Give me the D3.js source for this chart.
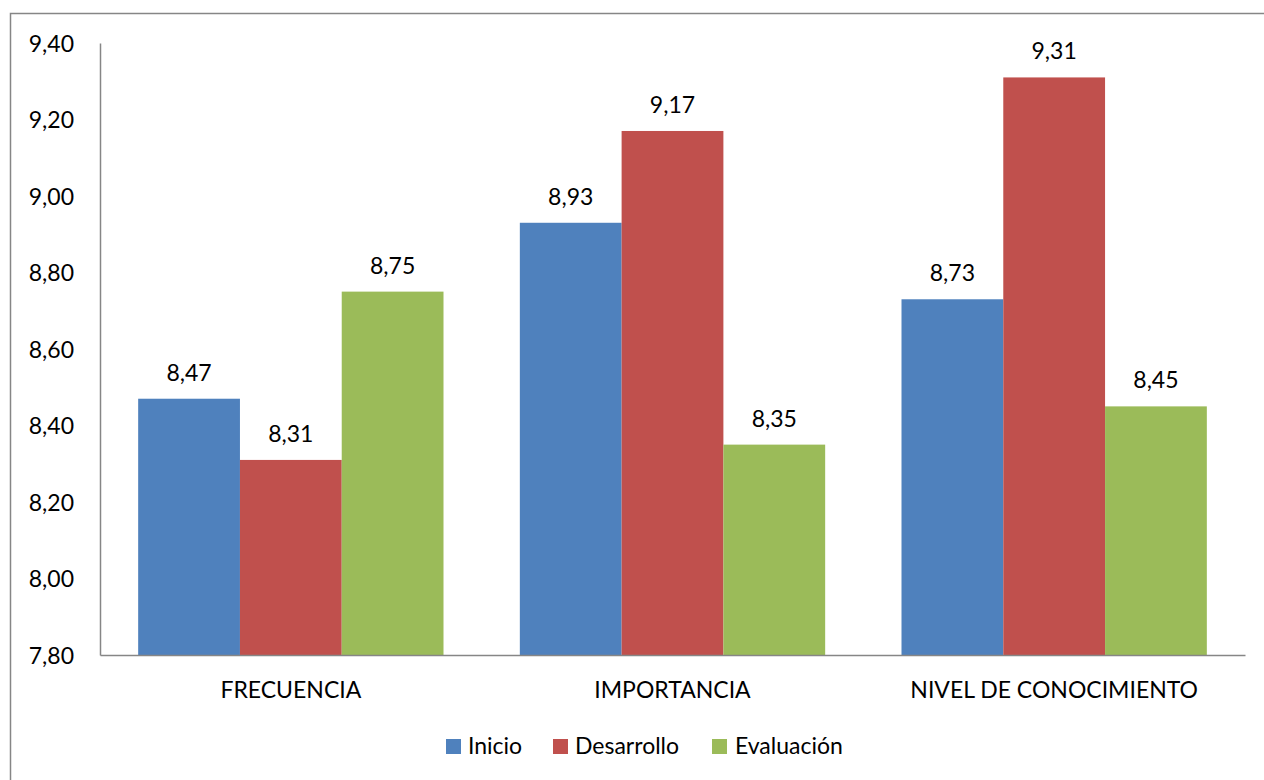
<!DOCTYPE html>
<html>
<head>
<meta charset="utf-8">
<script src="https://cdn.jsdelivr.net/npm/d3@7"></script>
<style>
  html, body { margin: 0; padding: 0; background: #fff; }
  svg { display: block; }
  text { font-family: Lato, "Open Sans", sans-serif; fill: #000; }
</style>
</head>
<body>
<svg id="chart" width="1264" height="780"></svg>
<script>
// Categories, series and axis ticks
const categories = ["FRECUENCIA", "IMPORTANCIA", "NIVEL DE CONOCIMIENTO"];
const seriesNames = ["Inicio", "Desarrollo", "Evaluación"];
const inicio = [8.47, 8.93, 8.73];
const desarrollo = [8.31, 9.17, 9.31];
const evaluacion = [8.75, 8.35, 8.45];
const yTicks = [7.8, 8.0, 8.2, 8.4, 8.6, 8.8, 9.0, 9.2, 9.4];
const colors = ["#4F81BD", "#C0504D", "#9BBB59"];

const seriesValues = [inicio, desarrollo, evaluacion];
const rows = categories.map((c, i) => ({
  cat: c,
  vals: seriesNames.map((s, j) => ({ series: s, idx: j, value: seriesValues[j][i] }))
}));

const es = d3.formatLocale({ decimal: ",", thousands: ".", grouping: [3], currency: ["", " €"] });
const fmt = es.format(".2f");

const FS = 23;
const svg = d3.select("#chart");

// outer chart frame
svg.append("rect")
  .attr("x", 10.5).attr("y", 13.5)
  .attr("width", 1300).attr("height", 800)
  .attr("fill", "none").attr("stroke", "#868686").attr("stroke-width", 1.5);

const plot = { left: 100, right: 1245, top: 43, bottom: 655 };

const x0 = d3.scaleBand()
  .domain(categories)
  .range([plot.left, plot.right])
  .paddingInner(0).paddingOuter(0);

// bars fill 3/3.75 of each category (gap width 75%)
const groupW = x0.bandwidth() * 3 / 3.75;
const x1 = d3.scaleBand()
  .domain(seriesNames)
  .range([0, groupW]);

const y = d3.scaleLinear()
  .domain([yTicks[0], yTicks[yTicks.length - 1]])
  .range([plot.bottom, plot.top]);

// bars
const groups = svg.append("g").selectAll("g")
  .data(rows).join("g")
  .attr("transform", d => `translate(${x0(d.cat) + (x0.bandwidth() - groupW) / 2},0)`);

groups.selectAll("rect")
  .data(d => d.vals).join("rect")
  .attr("x", d => x1(d.series))
  .attr("y", d => y(d.value))
  .attr("width", x1.bandwidth())
  .attr("height", d => y(yTicks[0]) - y(d.value))
  .attr("fill", d => colors[d.idx]);

// value labels
groups.selectAll("text")
  .data(d => d.vals).join("text")
  .attr("x", d => x1(d.series) + x1.bandwidth() / 2)
  .attr("y", d => y(d.value) - 18)
  .attr("text-anchor", "middle")
  .style("font-size", FS + "px")
  .text(d => fmt(d.value));

// y axis
const yAxis = svg.append("g")
  .attr("transform", `translate(${plot.left},0)`)
  .call(d3.axisLeft(y).tickValues(yTicks).tickFormat(fmt).tickSize(0).tickPadding(26));
yAxis.select(".domain").attr("stroke", "#868686").attr("stroke-width", 1.5);
yAxis.selectAll("text").style("font-size", FS + "px").attr("dy", "0.35em");

// x axis
const xAxis = svg.append("g")
  .attr("transform", `translate(0,${plot.bottom})`)
  .call(d3.axisBottom(x0).tickSize(0).tickPadding(27));
xAxis.select(".domain").attr("stroke", "#868686").attr("stroke-width", 1.5);
xAxis.selectAll("text").style("font-size", FS + "px");

// legend
const legendItems = [
  { name: seriesNames[0], sx: 446, tx: 468 },
  { name: seriesNames[1], sx: 553, tx: 575 },
  { name: seriesNames[2], sx: 712, tx: 735 }
];
const legend = svg.append("g");
legend.selectAll("rect")
  .data(legendItems).join("rect")
  .attr("x", d => d.sx).attr("y", 739)
  .attr("width", 15).attr("height", 15)
  .attr("fill", (d, i) => colors[i]);
legend.selectAll("text")
  .data(legendItems).join("text")
  .attr("x", d => d.tx).attr("y", 754)
  .style("font-size", FS + "px")
  .text(d => d.name);
</script>
</body>
</html>
